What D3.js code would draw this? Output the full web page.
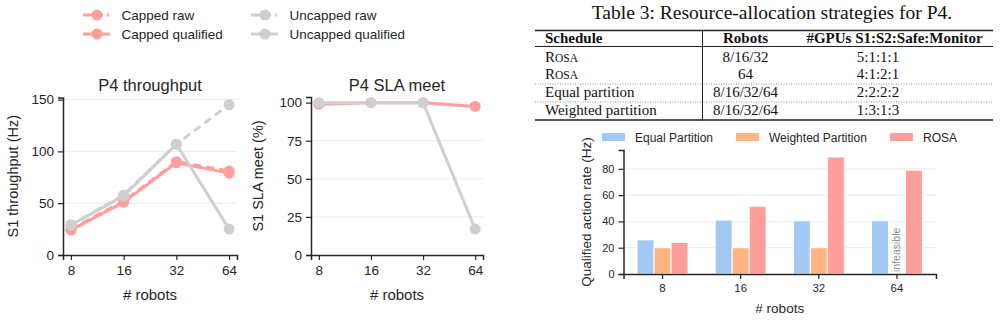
<!DOCTYPE html>
<html>
<head>
<meta charset="utf-8">
<title>P4 throughput, SLA meet and resource allocation</title>
<script src="https://d3js.org/d3.v7.min.js"></script>
<style>
  body { margin: 0; background: #fff; }
  svg { display: block; font-family: "Liberation Sans", Arial, sans-serif; }
</style>
</head>
<body>
<svg id="fig" width="1008" height="320"></svg>
<script>
// ---- data ----
var robots = ['8', '16', '32', '64'];

// P4 throughput (Hz)
var cappedRaw = [25, 52, 90, 81];
var cappedQualified = [24, 51, 89, 79];
var uncappedRaw = [29, 58, 107, 145];
var uncappedQualified = [29, 57, 107, 25];
var throughputTicks = [0, 50, 100, 150];

// P4 SLA meet (%)
var slaCapped = [99, 100, 100, 97.5];
var slaUncapped = [100, 100, 100, 17];
var slaTicks = [0, 25, 50, 75, 100];

// qualified action rate bars (Hz), null = infeasible
var barSeries = ['Equal Partition', 'Weighted Partition', 'ROSA'];
var equalPartition = [26, 41, 40.5, 40.5];
var weightedPartition = [20, 20, 20, null];
var rosa = [24, 51.5, 89, 79];
var rateTicks = [0, 20, 40, 60, 80];

// table 3
var tableCaption = 'Table 3: Resource-allocation strategies for P4.';
var tableHeader = ['Schedule', 'Robots', '#GPUs S1:S2:Safe:Monitor'];
var tableSchedules = ['ROSA', 'ROSA', 'Equal partition', 'Weighted partition'];
var tableRobots = ['8/16/32', '64', '8/16/32/64', '8/16/32/64'];
var tableGpus = ['5:1:1:1', '4:1:2:1', '2:2:2:2', '1:3:1:3'];

var pink = '#ff9f9b', grey = '#cfcfcf';
var ink = '#262626', gridCol = '#ebebeb';

var svg = d3.select('#fig');
svg.append('rect').attr('width', 1008).attr('height', 320).attr('fill', '#fff');

function styleAxis(g, fs) {
  g.select('.domain').attr('stroke', ink).attr('stroke-width', 1.5);
  g.selectAll('.tick line').attr('stroke', ink).attr('stroke-width', 1.2);
  g.selectAll('.tick text').attr('fill', ink).attr('font-size', fs)
   .attr('font-family', '"Liberation Sans", Arial, sans-serif');
}

// ---- line charts ----
function lineChart(o) {
  var x = d3.scalePoint().domain(robots).range([o.x0, o.x1]).padding(0.15);
  var y = d3.scaleLinear().domain([0, o.ymax]).range([o.yb, o.yt]);
  var g = svg.append('g');

  g.selectAll('line.grid').data(o.ticks.slice(1)).enter().append('line')
   .attr('x1', o.x0).attr('x2', o.x1)
   .attr('y1', function(d) { return y(d); }).attr('y2', function(d) { return y(d); })
   .attr('stroke', gridCol).attr('stroke-width', 1);

  var line = d3.line()
    .x(function(d, i) { return x(robots[i]); })
    .y(function(d) { return y(d); });

  o.series.forEach(function(s) {
    g.append('path').datum(s.values)
     .attr('d', line).attr('fill', 'none')
     .attr('stroke', s.color).attr('stroke-width', 3)
     .attr('stroke-dasharray', s.dash ? '8,5' : null);
    g.selectAll(null).data(s.values).enter().append('circle')
     .attr('cx', function(d, i) { return x(robots[i]); })
     .attr('cy', function(d) { return y(d); })
     .attr('r', 5.5).attr('fill', s.color);
  });

  var ya = g.append('g').attr('transform', 'translate(' + o.x0 + ',0)')
    .call(d3.axisLeft(y).tickValues(o.ticks).tickSizeOuter(0).tickSize(5).tickPadding(4));
  styleAxis(ya, 13.5);
  var xa = g.append('g').attr('transform', 'translate(0,' + o.yb + ')')
    .call(d3.axisBottom(x).tickSizeOuter(0).tickSize(5).tickPadding(5));
  styleAxis(xa, 13.5);

  g.append('text').attr('x', (o.x0 + o.x1) / 2).attr('y', 91)
   .attr('text-anchor', 'middle').attr('font-size', 16.5).attr('fill', ink)
   .text(o.title);
  g.append('text').attr('x', (o.x0 + o.x1) / 2).attr('y', 300)
   .attr('text-anchor', 'middle').attr('font-size', 15).attr('fill', ink)
   .text('# robots');
  g.append('text')
   .attr('transform', 'translate(' + o.ylabX + ',' + ((o.yb + o.yt) / 2) + ') rotate(-90)')
   .attr('text-anchor', 'middle').attr('font-size', 14.5).attr('fill', ink)
   .text(o.ylabel);
}

lineChart({
  x0: 63, x1: 237, yb: 255, yt: 97.5, ymax: 152,
  ticks: throughputTicks, title: 'P4 throughput',
  ylabel: 'S1 throughput (Hz)', ylabX: 18,
  series: [
    { values: cappedRaw, color: pink, dash: true },
    { values: cappedQualified, color: pink, dash: false },
    { values: uncappedRaw, color: grey, dash: true },
    { values: uncappedQualified, color: grey, dash: false }
  ]
});

lineChart({
  x0: 311, x1: 483, yb: 255, yt: 97, ymax: 103.7,
  ticks: slaTicks, title: 'P4 SLA meet',
  ylabel: 'S1 SLA meet (%)', ylabX: 263,
  series: [
    { values: slaCapped, color: pink, dash: false },
    { values: slaUncapped, color: grey, dash: false }
  ]
});

// ---- line legend ----
var lineLegend = [
  { label: 'Capped raw', color: pink, dash: true, x: 83, y: 15 },
  { label: 'Capped qualified', color: pink, dash: false, x: 83, y: 34 },
  { label: 'Uncapped raw', color: grey, dash: true, x: 251, y: 15 },
  { label: 'Uncapped qualified', color: grey, dash: false, x: 251, y: 34 }
];
var lg = svg.append('g').selectAll('g').data(lineLegend).enter().append('g')
  .attr('transform', function(d) { return 'translate(' + d.x + ',' + d.y + ')'; });
lg.append('line').attr('x1', 0).attr('x2', 27).attr('y1', 0).attr('y2', 0)
  .attr('stroke', function(d) { return d.color; }).attr('stroke-width', 3)
  .attr('stroke-dasharray', function(d) { return d.dash ? '20,4,2' : null; });
lg.append('circle').attr('cx', 14).attr('cy', 0).attr('r', 5.5)
  .attr('fill', function(d) { return d.color; });
lg.append('text').attr('x', 38.5).attr('y', 5).attr('font-size', 13.5).attr('fill', ink)
  .text(function(d) { return d.label; });

// ---- table 3 ----
var serif = '"Liberation Serif", "Times New Roman", serif';
var tb = svg.append('g').attr('font-family', serif).attr('fill', '#111');
var tL = 535, tR = 993, tSplit = 702.5;
tb.append('text').attr('x', 772).attr('y', 19).attr('text-anchor', 'middle')
  .attr('font-size', 19.5).text(tableCaption);
tb.append('line').attr('x1', tL).attr('x2', tR).attr('y1', 30.5).attr('y2', 30.5)
  .attr('stroke', '#222').attr('stroke-width', 1.5);
tb.append('line').attr('x1', tL).attr('x2', tR).attr('y1', 46.5).attr('y2', 46.5)
  .attr('stroke', '#222').attr('stroke-width', 1);
tb.append('line').attr('x1', tL).attr('x2', tR).attr('y1', 120).attr('y2', 120)
  .attr('stroke', '#222').attr('stroke-width', 1.5);
tb.append('line').attr('x1', tSplit).attr('x2', tSplit).attr('y1', 30).attr('y2', 120.5)
  .attr('stroke', '#222').attr('stroke-width', 1);
[84, 102].forEach(function(yy) {
  tb.append('line').attr('x1', tL).attr('x2', tSplit - 1).attr('y1', yy).attr('y2', yy)
    .attr('stroke', '#777').attr('stroke-width', 0.8).attr('stroke-dasharray', '1,1.5');
  tb.append('line').attr('x1', tSplit + 1).attr('x2', tR).attr('y1', yy).attr('y2', yy)
    .attr('stroke', '#777').attr('stroke-width', 0.8).attr('stroke-dasharray', '1,1.5');
});
var colX = [545, 745.5, 894.5];
var colAnchor = ['start', 'middle', 'middle'];
tb.selectAll('text.hdr').data(tableHeader).enter().append('text')
  .attr('x', function(d, i) { return colX[i]; }).attr('y', 42.5)
  .attr('text-anchor', function(d, i) { return colAnchor[i]; })
  .attr('font-size', 15).attr('font-weight', 'bold').text(function(d) { return d; });
var rowY = [61.5, 78.5, 97, 115];
tableSchedules.forEach(function(s, i) {
  var t = tb.append('text').attr('x', colX[0]).attr('y', rowY[i]).attr('font-size', 15);
  if (s === 'ROSA') {
    t.append('tspan').text(s.charAt(0));
    t.append('tspan').attr('font-size', 11.5).text(s.slice(1));
  } else {
    t.text(s);
  }
  tb.append('text').attr('x', colX[1]).attr('y', rowY[i]).attr('text-anchor', 'middle')
    .attr('font-size', 15).text(tableRobots[i]);
  tb.append('text').attr('x', 878).attr('y', rowY[i]).attr('text-anchor', 'middle')
    .attr('font-size', 15).text(tableGpus[i]);
});

// ---- grouped bar chart ----
var bx0 = 623.5, bx1 = 936, by0 = 274, by1 = 150;
var bx = d3.scaleBand().domain(robots).range([bx0, bx1]);
var bInner = d3.scaleBand().domain(barSeries).range([-25.5, 25.5]);
var by = d3.scaleLinear().domain([0, 94.3]).range([by0, by1]);
var barColors = { 'Equal Partition': '#a1c9f4', 'Weighted Partition': '#ffb482', 'ROSA': '#ff9f9b' };
var barValues = [equalPartition, weightedPartition, rosa];

var bg = svg.append('g');
bg.selectAll('line.grid').data(rateTicks.slice(1)).enter().append('line')
  .attr('x1', bx0).attr('x2', bx1)
  .attr('y1', function(d) { return by(d); }).attr('y2', function(d) { return by(d); })
  .attr('stroke', gridCol).attr('stroke-width', 1);

barSeries.forEach(function(name, si) {
  var vals = barValues[si];
  bg.selectAll(null).data(robots).enter().filter(function(d, i) { return vals[i] != null; })
    .append('rect')
    .attr('x', function(d) { return bx(d) + bx.bandwidth() / 2 + bInner(name); })
    .attr('width', bInner.bandwidth())
    .attr('y', function(d) { return by(vals[robots.indexOf(d)]); })
    .attr('height', function(d) { return by0 - by(vals[robots.indexOf(d)]); })
    .attr('fill', barColors[name]).attr('stroke', '#fff').attr('stroke-width', 1);
  vals.forEach(function(v, i) {
    if (v == null) {
      var cx = bx(robots[i]) + bx.bandwidth() / 2 + bInner(name) + bInner.bandwidth() / 2;
      bg.append('text')
        .attr('transform', 'translate(' + (cx + 3.5) + ',' + (by0 - 2) + ') rotate(-90)')
        .attr('font-size', 10.5).attr('fill', '#8c8c8c').text('infeasible');
    }
  });
});

var bya = bg.append('g').attr('transform', 'translate(' + bx0 + ',0)')
  .call(d3.axisLeft(by).tickValues(rateTicks).tickSizeOuter(0).tickSize(5).tickPadding(4));
styleAxis(bya, 11);
var bxa = bg.append('g').attr('transform', 'translate(0,' + by0 + ')')
  .call(d3.axisBottom(bx).tickSizeOuter(0).tickSize(5).tickPadding(5));
styleAxis(bxa, 11.5);
bg.append('text').attr('x', (bx0 + bx1) / 2).attr('y', 312.5).attr('text-anchor', 'middle')
  .attr('font-size', 13.5).attr('fill', ink).text('# robots');
bg.append('text')
  .attr('transform', 'translate(' + 591 + ',' + ((by0 + by1) / 2) + ') rotate(-90)')
  .attr('text-anchor', 'middle').attr('font-size', 13.5).attr('fill', ink)
  .text('Qualified action rate (Hz)');

// bar legend
var barLegendX = [602, 736, 890];
var bl = bg.selectAll('g.leg').data(barSeries).enter().append('g')
  .attr('transform', function(d, i) { return 'translate(' + barLegendX[i] + ',133)'; });
bl.append('rect').attr('width', 23).attr('height', 8)
  .attr('fill', function(d) { return barColors[d]; });
bl.append('text').attr('x', 33).attr('y', 8.5).attr('font-size', 12).attr('fill', ink)
  .text(function(d) { return d; });
</script>
</body>
</html>
